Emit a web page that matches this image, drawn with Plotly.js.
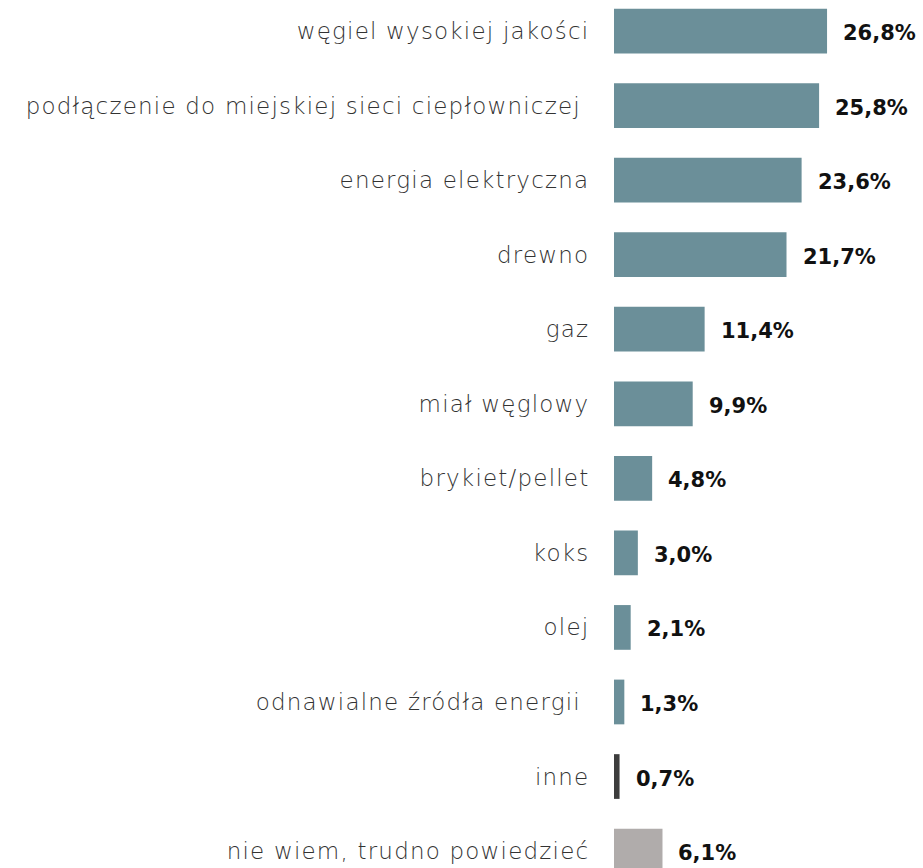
<!DOCTYPE html>
<html>
<head>
<meta charset="utf-8">
<script src="https://cdn.plot.ly/plotly-3.0.1.min.js"></script>
<style>
html,body{margin:0;padding:0;background:#fff;}
#chart{width:923px;height:868px;}
#chart .ytick text{letter-spacing:1.2px;}
</style>
</head>
<body>
<div id="chart"></div>
<script>
const categories = [
  "węgiel wysokiej jakości",
  "podłączenie do miejskiej sieci ciepłowniczej ",
  "energia elektryczna",
  "drewno",
  "gaz",
  "miał węglowy",
  "brykiet/pellet",
  "koks",
  "olej",
  "odnawialne źródła energii ",
  "inne",
  "nie wiem, trudno powiedzieć"
];
const values = [26.8, 25.8, 23.6, 21.7, 11.4, 9.9, 4.8, 3.0, 2.1, 1.3, 0.7, 6.1];
const valueLabels = ["26,8%", "25,8%", "23,6%", "21,7%", "11,4%", "9,9%", "4,8%", "3,0%", "2,1%", "1,3%", "0,7%", "6,1%"];
const barColors = ["#6b8f99","#6b8f99","#6b8f99","#6b8f99","#6b8f99","#6b8f99","#6b8f99","#6b8f99","#6b8f99","#6b8f99","#3d3d3d","#b0acab"];

const trace = {
  type: "bar",
  orientation: "h",
  x: values,
  y: categories,
  marker: {color: barColors},
  width: 0.6,
  hoverinfo: "none"
};

const annotations = values.map((v, i) => ({
  x: v, y: categories[i], xref: "x", yref: "y",
  text: "<b>" + valueLabels[i] + "</b>",
  showarrow: false, xanchor: "left", yanchor: "middle",
  xshift: 14, yshift: -2,
  font: {family: "DejaVu Sans", size: 21, color: "#111"}
}));

const layout = {
  width: 923, height: 868,
  margin: {l: 614, r: 0, t: 0, b: 0},
  paper_bgcolor: "#fff", plot_bgcolor: "#fff",
  showlegend: false,
  xaxis: {range: [0, 38.87], visible: false, fixedrange: true},
  yaxis: {
    type: "category",
    range: [11.227, -0.416],
    showgrid: false, zeroline: false, showline: false,
    ticks: "outside", ticklen: 19, tickcolor: "rgba(0,0,0,0)",
    tickfont: {family: "DejaVu Sans", size: 23, color: "#333", weight: 300},
    fixedrange: true
  },
  annotations: annotations
};

Plotly.newPlot("chart", [trace], layout, {displayModeBar: false, staticPlot: true});
</script>
</body>
</html>
